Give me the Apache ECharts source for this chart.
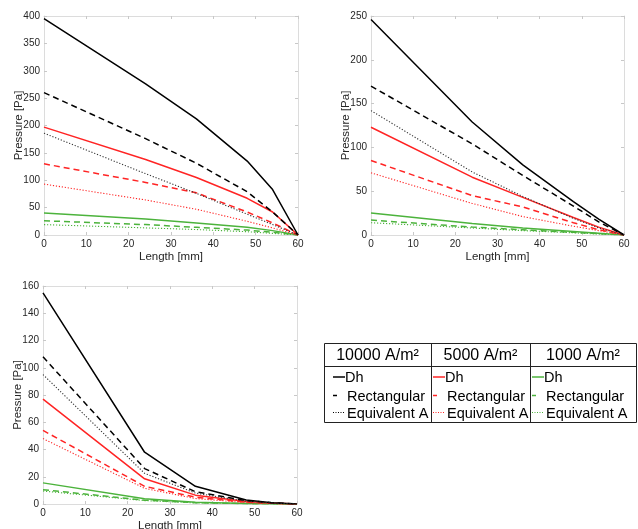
<!DOCTYPE html>
<html>
<head>
<meta charset="utf-8">
<script src="https://cdn.jsdelivr.net/npm/echarts@6/dist/echarts.min.js"></script>
<style>
  html, body { margin: 0; padding: 0; background: #fff; }
  #chart { width: 638px; height: 529px; }
</style>
</head>
<body>
<div id="chart"></div>
<script>
// x positions along the channel [mm]
const lengthMm = [0, 24, 36, 48, 54, 60]

// panel A (top left)
const aDh10000 = [395, 276, 212, 135, 83, 0]
const aRect10000 = [260, 176, 131, 79, 42, 0]
const aEqA10000 = [186, 112, 76, 38, 19, 0]
const aDh5000 = [197, 138, 105, 67, 42, 0]
const aRect5000 = [130, 96, 77, 42, 22, 0]
const aEqA5000 = [93, 64, 47, 25, 13, 0]
const aDh1000 = [40, 29, 22, 14, 8, 0]
const aRect1000 = [26, 19, 14, 9, 5, 0]
const aEqA1000 = [19, 13, 10, 6, 3, 0]

// panel B (top right)
const bDh10000 = [246, 129, 80, 38, 18, 0]
const bRect10000 = [170, 104, 68, 33, 15, 0]
const bEqA10000 = [142, 72, 44, 19, 8, 0]
const bDh5000 = [123, 66, 43, 20, 9, 0]
const bRect5000 = [85, 45, 32, 14, 6, 0]
const bEqA5000 = [71, 36, 21, 10, 5, 0]
const bDh1000 = [25, 13, 8, 4, 2, 0]
const bRect1000 = [17, 9, 6, 3, 1.5, 0]
const bEqA1000 = [14, 8, 5, 2.5, 1, 0]

// panel C (bottom left)
const cDh10000 = [155, 38, 13, 3, 1, 0]
const cRect10000 = [108, 26, 9, 2.5, 1, 0]
const cEqA10000 = [95, 22.5, 8, 2, 0.8, 0]
const cDh5000 = [77, 18.5, 6.5, 1.8, 0.7, 0]
const cRect5000 = [54, 13, 5, 1.3, 0.5, 0]
const cEqA5000 = [48, 11.5, 4, 1, 0.4, 0]
const cDh1000 = [15.5, 3.8, 1.3, 0.4, 0.2, 0]
const cRect1000 = [10.5, 2.8, 1, 0.3, 0.1, 0]
const cEqA1000 = [9.5, 2.5, 0.8, 0.3, 0.1, 0]

// y axis ranges per panel
const yMax = [400, 250, 160]
const yStep = [50, 50, 20]

// legend table texts
const densityLabels = ['10000 A/m²', '5000 A/m²', '1000 A/m²']
const methodLabels = ['Dh', 'Rectangular', 'Equivalent A']

const FONT = 'Liberation Sans, Arial, sans-serif'
const AXIS_GREY = '#dcdcdc'
const TEXT = '#262626'
const densityColors = ['#000000', '#ff2424', '#4cb33c']

const panels = [
  [[aDh10000, aRect10000, aEqA10000], [aDh5000, aRect5000, aEqA5000], [aDh1000, aRect1000, aEqA1000]],
  [[bDh10000, bRect10000, bEqA10000], [bDh5000, bRect5000, bEqA5000], [bDh1000, bRect1000, bEqA1000]],
  [[cDh10000, cRect10000, cEqA10000], [cDh5000, cRect5000, cEqA5000], [cDh1000, cRect1000, cEqA1000]]
]

// grid boxes
const grids = [
  { left: 44, top: 16, width: 254, height: 219 },
  { left: 371, top: 16, width: 253, height: 219 },
  { left: 43, top: 286, width: 254, height: 218 }
]

const lineTypes = ['solid', [6, 4], [1.2, 1.8]]
const lineWidths = [1.5, 1.5, 1.1]

const xAxes = []
const yAxes = []
const series = []

grids.forEach((g, p) => {
  const baseTick = { show: true, inside: true, length: 3, lineStyle: { color: '#c8c8c8' } }
  const baseLine = { show: true, onZero: false, lineStyle: { color: AXIS_GREY, width: 1 } }
  // bottom
  xAxes.push({
    gridIndex: p, type: 'value', min: 0, max: 60, interval: 10, position: 'bottom',
    axisLine: baseLine, axisTick: baseTick, splitLine: { show: false },
    axisLabel: { color: TEXT, fontSize: 10, fontFamily: FONT, margin: 4 },
    name: 'Length [mm]', nameLocation: 'middle', nameGap: 16, nameMoveOverlap: false,
    nameTextStyle: { color: TEXT, fontSize: 11.5, fontFamily: FONT }
  })
  // top (box mirror)
  xAxes.push({
    gridIndex: p, type: 'value', min: 0, max: 60, interval: 10, position: 'top',
    axisLine: baseLine, axisTick: baseTick, splitLine: { show: false },
    axisLabel: { show: false }
  })
  yAxes.push({
    gridIndex: p, type: 'value', min: 0, max: yMax[p], interval: yStep[p], position: 'left',
    axisLine: baseLine, axisTick: baseTick, splitLine: { show: false },
    axisLabel: { color: TEXT, fontSize: 10, fontFamily: FONT, margin: 4 },
    name: 'Pressure [Pa]', nameLocation: 'middle', nameGap: 19, nameMoveOverlap: false,
    nameTextStyle: { color: TEXT, fontSize: 11.5, fontFamily: FONT }
  })
  yAxes.push({
    gridIndex: p, type: 'value', min: 0, max: yMax[p], interval: yStep[p], position: 'right',
    axisLine: baseLine, axisTick: baseTick, splitLine: { show: false },
    axisLabel: { show: false }
  })

  panels[p].forEach((group, d) => {
    group.forEach((values, m) => {
      series.push({
        type: 'line',
        name: densityLabels[d] + ' ' + methodLabels[m],
        xAxisIndex: p * 2,
        yAxisIndex: p * 2,
        symbol: 'none',
        silent: true,
        z: 10 - d,
        lineStyle: {
          color: m === 2 && d === 0 ? '#333333' : densityColors[d],
          type: lineTypes[m],
          width: lineWidths[m]
        },
        data: lengthMm.map((x, i) => [x, values[i]])
      })
    })
  })
})

// legend table drawn as graphic
const tbl = { left: 324, top: 343, right: 636, headBottom: 366, bottom: 422, cols: [324, 431, 530, 636] }
const rowY = [377, 395.5, 412.5]
const sampleStart = [333, 433, 532]
const graphic = []
graphic.push({
  type: 'rect',
  shape: { x: tbl.left + 0.5, y: tbl.top + 0.5, width: tbl.right - tbl.left, height: tbl.bottom - tbl.top },
  style: { fill: 'none', stroke: '#222', lineWidth: 1 }
})
graphic.push({
  type: 'line',
  shape: { x1: tbl.left, y1: tbl.headBottom + 0.5, x2: tbl.right, y2: tbl.headBottom + 0.5 },
  style: { stroke: '#222', lineWidth: 1 }
})
;[1, 2].forEach((c) => {
  graphic.push({
    type: 'line',
    shape: { x1: tbl.cols[c] + 0.5, y1: tbl.top, x2: tbl.cols[c] + 0.5, y2: tbl.bottom },
    style: { stroke: '#222', lineWidth: 1 }
  })
})
densityLabels.forEach((lab, c) => {
  graphic.push({
    type: 'text',
    x: (tbl.cols[c] + tbl.cols[c + 1]) / 2,
    y: (tbl.top + tbl.headBottom) / 2 + 1,
    style: { text: lab, fill: '#000', font: '16px ' + FONT, align: 'center', verticalAlign: 'middle' }
  })
  methodLabels.forEach((ml, m) => {
    const sx = sampleStart[c]
    graphic.push({
      type: 'line',
      shape: { x1: sx, y1: rowY[m], x2: sx + 12, y2: rowY[m] },
      style: {
        stroke: densityColors[c],
        lineWidth: m === 2 ? 1 : 1.5,
        lineDash: m === 0 ? null : (m === 1 ? [4, 8] : [1, 1.5])
      }
    })
    graphic.push({
      type: 'text',
      x: sx + (m === 0 ? 12 : 14),
      y: rowY[m] + 1,
      style: { text: ml, fill: '#000', font: '14.5px ' + FONT, align: 'left', verticalAlign: 'middle' }
    })
  })
})

const chart = echarts.init(document.getElementById('chart'), null, { renderer: 'canvas' })
chart.setOption({
  animation: false,
  backgroundColor: '#fff',
  grid: grids.map((g) => Object.assign({ containLabel: false, outerBoundsMode: 'none' }, g)),
  xAxis: xAxes,
  yAxis: yAxes,
  series: series,
  graphic: graphic
})
</script>
</body>
</html>
